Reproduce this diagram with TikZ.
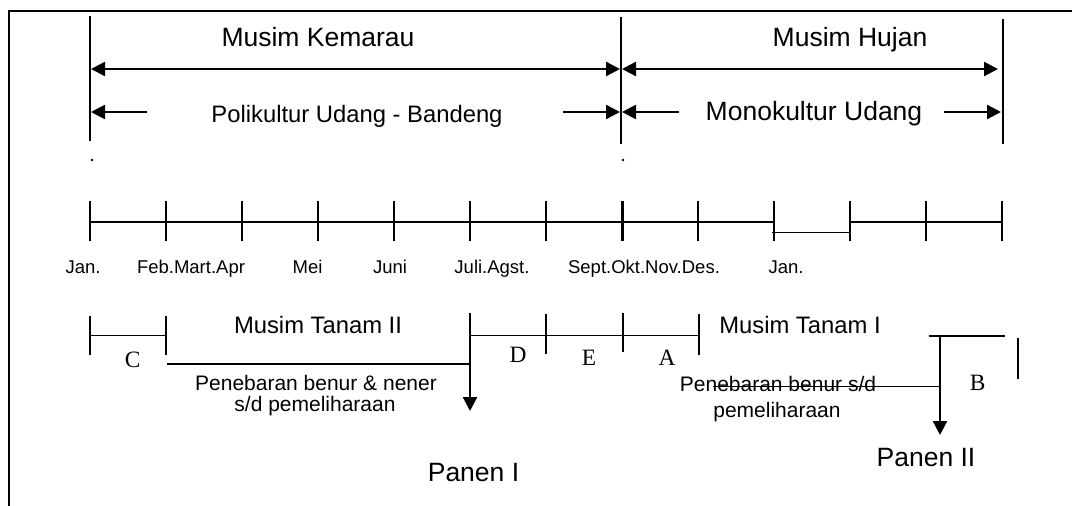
\documentclass[tikz,border=0pt]{standalone}
\usepackage{fontspec}
\setmainfont{Liberation Sans}
\newfontfamily\timesf{Liberation Serif}
\usetikzlibrary{arrows.meta}
\begin{document}
\begin{tikzpicture}[x=1pt,y=-1pt,
  ln/.style={line width=1.8pt},
  tipA/.tip={Triangle[length=14pt,width=14pt]},
  arr/.style={line width=2.4pt,-tipA},
  dbl/.style={line width=2.4pt,tipA-tipA},
  lbig/.style={inner sep=0pt,anchor=base,font=\fontsize{26.5}{30}\selectfont},
  lmid/.style={inner sep=0pt,anchor=base,font=\fontsize{23.8}{27}\selectfont},
  lsm/.style={inner sep=0pt,anchor=base,font=\fontsize{21}{25}\selectfont},
  lmon/.style={inner sep=0pt,anchor=base,font=\fontsize{18.5}{22}\selectfont},
  ltr/.style={inner sep=0pt,anchor=base,font=\timesf\fontsize{23.4}{27}\selectfont}]
\useasboundingbox (0,0) rectangle (1072,506);
\fill[white] (0,0) rectangle (1072,506);
% frame
\coordinate (fb) at (9,506);
\coordinate (fc) at (9,11);
\coordinate (fr) at (1072,11);
\draw[line width=2pt] (fb) -- (fc) -- (fr);
% season boundaries
\coordinate (vLt) at (90,16);  \coordinate (vLb) at (90,141);
\coordinate (vMt) at (621,17); \coordinate (vMb) at (621,144);
\coordinate (vRt) at (1003,19); \coordinate (vRb) at (1003,144);
\draw[ln] (vLt) -- (vLb);
\draw[ln] (vMt) -- (vMb);
\draw[ln] (vRt) -- (vRb);
% season texts
\node[lbig] (kem) at (318,46) {Musim Kemarau};
\node[lbig] (huj) at (850,46) {Musim Hujan};
\node[lmid] (poli) at (357,122) {Polikultur Udang - Bandeng};
\node[lbig] (mono) at (814,120) {Monokultur Udang};
% season arrows
\coordinate (kA) at (91,69);  \coordinate (kB) at (620,69);
\coordinate (hA) at (622,69); \coordinate (hB) at (998,69);
\draw[dbl] (kA) -- (kB);
\draw[dbl] (hA) -- (hB);
\coordinate (pA) at (91,112);  \coordinate (pA2) at (147,112);
\coordinate (pB) at (620,112); \coordinate (pB2) at (563,112);
\coordinate (mA) at (622,112); \coordinate (mA2) at (679,112);
\coordinate (mB) at (1001,112); \coordinate (mB2) at (944,112);
\draw[arr] (pA2) -- (pA);
\draw[arr] (pB2) -- (pB);
\draw[arr] (mA2) -- (mA);
\draw[arr] (mB2) -- (mB);
% dots
\fill (92,160) circle (1.3);
\fill (623,160) circle (1.3);
% timeline
\foreach \k in {0,...,12}{
  \coordinate (t\k) at (90+76*\k,201);
  \coordinate (b\k) at (90+76*\k,241);
}
\foreach \k in {0,1,2,3,4,5,6,8,9,10,11,12}{\draw[ln] (t\k) -- (b\k);}
\draw[line width=3pt] (t7) -- (b7);
\coordinate (h0) at (90,222);  \coordinate (h1) at (774,222);
\coordinate (h2) at (772,232.5); \coordinate (h3) at (850,232.5);
\coordinate (h4) at (850,222); \coordinate (h5) at (1002,222);
\draw[ln] (h0) -- (h1);
\draw[ln] (h2) -- (h3);
\draw[ln] (h4) -- (h5);
\node[lmon] (m1) at (83,273) {Jan.};
\node[lmon] (m2) at (191,273) {Feb.Mart.Apr};
\node[lmon] (m3) at (307.5,273) {Mei};
\node[lmon] (m4) at (390,273) {Juni};
\node[lmon] (m5) at (492,273) {Juli.Agst.};
\node[lmon] (m6) at (644,273) {Sept.Okt.Nov.Des.};
\node[lmon] (m7) at (786,273) {Jan.};
% lower: season II
\coordinate (c1t) at (90,315.5); \coordinate (c1b) at (90,355);
\coordinate (c2t) at (166,315.5); \coordinate (c2b) at (166,355);
\coordinate (cl) at (90,335.5); \coordinate (cr) at (166,335.5);
\draw[ln] (c1t) -- (c1b);
\draw[ln] (c2t) -- (c2b);
\draw[ln] (cl) -- (cr);
\node[ltr] (C) at (132.6,367) {C};
\coordinate (s2a) at (167,363.7); \coordinate (s2b) at (470,363.7);
\draw[ln] (s2a) -- (s2b);
\coordinate (p1t) at (470,313); \coordinate (p1b) at (470,411);
\draw[arr] (p1t) -- (p1b);
\coordinate (dl) at (470,335.5); \coordinate (dr) at (699,335.5);
\draw[ln] (dl) -- (dr);
\coordinate (d1t) at (546,314); \coordinate (d1b) at (546,353.6);
\coordinate (d2t) at (623,313); \coordinate (d2b) at (623,352);
\coordinate (d3t) at (699,314); \coordinate (d3b) at (699,354.6);
\draw[ln] (d1t) -- (d1b);
\draw[ln] (d2t) -- (d2b);
\draw[ln] (d3t) -- (d3b);
\node[ltr] (D) at (518,362) {D};
\node[ltr] (E) at (589,365.5) {E};
\node[ltr] (A) at (667,365.5) {A};
\node[lmid] (mt2) at (318,333) {Musim Tanam II};
\node[lmid] (mt1) at (800,333) {Musim Tanam I};
\node[lsm] (pen1) at (316,390) {Penebaran benur \& nener};
\node[lsm] (pen1b) at (315,411) {s/d pemeliharaan};
\node[lbig] (pan1) at (473.5,481) {Panen I};
% lower: season I
\coordinate (bl) at (928.5,335.6); \coordinate (br) at (1005,335.6);
\draw[ln] (bl) -- (br);
\coordinate (p2t) at (940,335.6); \coordinate (p2b) at (940,435);
\draw[arr] (p2t) -- (p2b);
\coordinate (bvt) at (1018,338); \coordinate (bvb) at (1018,379);
\draw[ln] (bvt) -- (bvb);
\node[ltr] (B) at (977.6,390) {B};
\node[lsm] (pen2) at (778,391.5) {Penebaran benur s/d};
\node[lsm] (pen2b) at (777,417.5) {pemeliharaan};
\coordinate (sl) at (713,386.4); \coordinate (sr) at (940,386.4);
\draw[ln] (sl) -- (sr);
\node[lbig] (pan2) at (926,466) {Panen II};
\end{tikzpicture}
\end{document}
